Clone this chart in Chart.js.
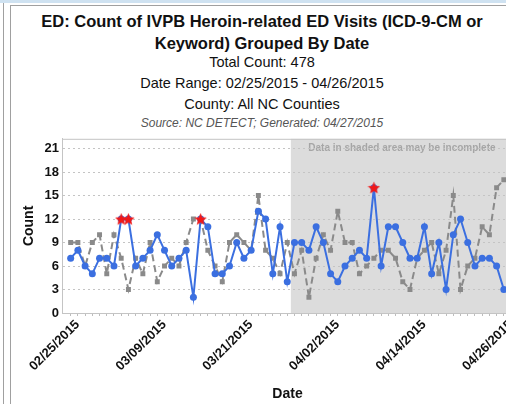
<!DOCTYPE html>
<html>
<head>
<meta charset="utf-8">
<script src="https://cdn.jsdelivr.net/npm/chart.js@4.4.0/dist/chart.umd.min.js"></script>
<style>
  html, body { margin: 0; padding: 0; background: #fff; overflow: hidden; width: 506px; height: 404px; }
  #topbar { position: absolute; left: 0; top: 0; width: 506px; height: 3px; background: #cfe2f1; }
  #outer { position: absolute; left: 3px; top: 3px; width: 1px; height: 401px; background: #a0a0a0; }
  #panel { position: absolute; left: 10px; top: 5px; width: 540px; height: 420px;
           border-left: 1px solid #a0a0a0; border-top: 1px solid #a0a0a0; }
  .t { position: absolute; left: 10px; width: 504px; text-align: center; white-space: nowrap;
       font-family: "Liberation Sans", Arial, sans-serif; color: #111; }
  .b { font-weight: bold; font-size: 16.5px; line-height: 20px; }
  .n { font-size: 14.5px; line-height: 18px; }
  .s { font-size: 12px; line-height: 14px; font-style: italic; color: #555; }
  #wrap { position: absolute; left: 11px; top: 128px; width: 520px; height: 276px; }
</style>
</head>
<body>
<div id="topbar"></div>
<div id="outer"></div>
<div id="panel"></div>
<div class="t b" style="top:11px">ED: Count of IVPB Heroin-related ED Visits (ICD-9-CM or</div>
<div class="t b" style="top:33px">Keyword) Grouped By Date</div>
<div class="t n" style="top:53px">Total Count: 478</div>
<div class="t n" style="top:74px">Date Range: 02/25/2015 - 04/26/2015</div>
<div class="t n" style="top:95px">County: All NC Counties</div>
<div class="t s" style="top:116px">Source: NC DETECT; Generated: 04/27/2015</div>
<div id="wrap"><canvas id="myChart" width="520" height="276"></canvas></div>
<script>
// ******** data
var startDate = new Date(2015, 1, 25);   // 02/25/2015, one point per day
var dayCount = 61;
var labelEvery = 12;                      // 02/25, 03/09, 03/21, 04/02, 04/14, 04/26
var incompleteFrom = '03/28/2015';        // shaded area starts here

// blue line, current period (sums to 478)
var visits = [7, 8, 6, 5, 7, 7, 6, 12, 12, 6,
              7, 8, 10, 8, 6, 7, 8, 2, 12, 11,
              5, 5, 6, 9, 7, 8, 13, 12, 5, 11,
              4, 9, 9, 8, 11, 9, 5, 4, 6, 7,
              8, 7, 16, 6, 11, 11, 9, 7, 7, 11,
              5, 9, 3, 10, 12, 9, 6, 7, 7, 6,
              3];
// grey dashed line, comparison period
var comparison = [9, 9, 6, 9, 10, 5, 10, 7, 3, 7,
                  5, 9, 4, 6, 7, 6, 9, 12, 12, 8,
                  6, 4, 9, 10, 9, 8, 15, 8, 7, 5,
                  9, 5, 8, 2, 7, 10, 8, 13, 9, 9,
                  5, 6, 7, 8, 8, 7, 4, 3, 7, 8,
                  9, 5, 8, 15, 3, 6, 7, 11, 10, 16,
                  17];
// red stars (alerts) on the blue line, by day index
var alertDays = [7, 8, 18, 42];
var yTicks = [0, 3, 6, 9, 12, 15, 18, 21];

function pad(n) { return (n < 10 ? '0' : '') + n; }
var dates = [];
for (var i = 0; i < dayCount; i++) {
  var d = new Date(startDate.getFullYear(), startDate.getMonth(), startDate.getDate() + i);
  dates.push(pad(d.getMonth() + 1) + '/' + pad(d.getDate()) + '/' + d.getFullYear());
}

// red five point star used as point style
function makeStar(size) {
  var c = document.createElement('canvas');
  c.width = size; c.height = size;
  var g = c.getContext('2d');
  var cx = size / 2, cy = size / 2 + 0.5, R = size / 2, r = R * 0.45;
  g.beginPath();
  for (var k = 0; k < 10; k++) {
    var rad = (k % 2 === 0) ? R : r;
    var a = -Math.PI / 2 + k * Math.PI / 5;
    g.lineTo(cx + rad * Math.cos(a), cy + rad * Math.sin(a));
  }
  g.closePath();
  g.fillStyle = '#f01818';
  g.fill();
  return c;
}

var font = '"Liberation Sans", Arial, sans-serif';

var shadePlugin = {
  id: 'shade',
  beforeDraw: function(chart) {
    var ctx = chart.ctx, a = chart.chartArea, x = chart.scales.x;
    var left = x.getPixelForValue(dates.indexOf(incompleteFrom) - 0.5);
    ctx.save();
    ctx.fillStyle = '#dcdcdc';
    ctx.fillRect(left, a.top, a.right - left, a.bottom - a.top);
    ctx.fillStyle = '#a6a6a6';
    ctx.font = 'bold 10px ' + font;
    ctx.textAlign = 'center';
    ctx.textBaseline = 'middle';
    ctx.fillText('Data in shaded area may be incomplete', (left + a.right) / 2, a.top + 9);
    ctx.restore();
  },
  beforeDatasetsDraw: function(chart) {
    var ctx = chart.ctx, a = chart.chartArea;
    ctx.save();
    ctx.strokeStyle = '#c4c4c4';
    ctx.lineWidth = 1;
    ctx.strokeRect(a.left + 0.5, a.top + 0.5, a.right - a.left, a.bottom - a.top);
    ctx.restore();
  }
};

var ctx = document.getElementById('myChart').getContext('2d');
var chart = new Chart(ctx, {
  type: 'line',
  data: {
    datasets: [{
      label: 'Alerts',
      data: alertDays.map(function(i) { return {x: i, y: visits[i]}; }),
      showLine: false,
      pointStyle: makeStar(13),
      pointRadius: 7
    }, {
      label: 'Visits',
      data: visits.map(function(v, i) { return {x: i, y: v}; }),
      borderColor: '#3b6fe0',
      backgroundColor: '#3b6fe0',
      borderWidth: 2,
      pointRadius: 3.5,
      pointBorderWidth: 0,
      tension: 0
    }, {
      label: 'Comparison',
      data: comparison.map(function(v, i) { return {x: i, y: v}; }),
      borderColor: '#8a8a8a',
      backgroundColor: '#8a8a8a',
      borderWidth: 2,
      borderDash: [7, 4],
      pointStyle: 'rect',
      pointRadius: 3.5,
      pointBorderWidth: 0,
      tension: 0
    }]
  },
  options: {
    responsive: false,
    animation: false,
    devicePixelRatio: 1,
    layout: { padding: { left: 0, top: 6, right: 18, bottom: 0 } },
    plugins: { legend: { display: false }, tooltip: { enabled: false } },
    scales: {
      x: {
        type: 'linear',
        min: -1.2,
        max: 61.27,
        afterBuildTicks: function(scale) {
          scale.ticks = dates.map(function(d, i) { return {value: i}; });
        },
        afterFit: function(scale) { scale.height = 91; },
        ticks: {
          autoSkip: false,
          minRotation: 45,
          maxRotation: 45,
          padding: 1,
          labelOffset: 7,
          color: '#111',
          font: { family: font, size: 13, weight: 'bold' },
          callback: function(v) { return v % labelEvery === 0 ? dates[v] : ''; }
        },
        grid: { drawOnChartArea: false, color: '#bdbdbd', tickLength: 3 },
        border: { display: true, color: '#c4c4c4' },
        title: {
          display: true, text: 'Date', color: '#111',
          font: { family: font, size: 14, weight: 'bold' },
          padding: { top: 0, bottom: 1 }
        }
      },
      y: {
        min: 0,
        max: 22.24,
        afterBuildTicks: function(scale) {
          scale.ticks = yTicks.map(function(v) { return {value: v}; });
        },
        afterFit: function(scale) { scale.width = 51; },
        ticks: {
          padding: 3,
          color: '#111',
          font: { family: font, size: 13, weight: 'bold' }
        },
        grid: { color: '#c4c4c4', drawTicks: false },
        border: { display: true, color: '#c4c4c4', dash: [2, 3] },
        title: {
          display: true, text: 'Count', color: '#111',
          font: { family: font, size: 14, weight: 'bold' },
          padding: { top: 9.6, bottom: 0 }
        }
      }
    }
  },
  plugins: [shadePlugin]
});
</script>
</body>
</html>
